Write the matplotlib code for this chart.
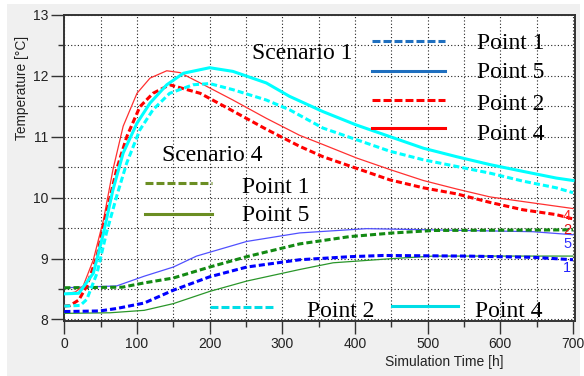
import numpy as np
import matplotlib
matplotlib.use("Agg")
import matplotlib.pyplot as plt
from matplotlib.patches import Rectangle
from matplotlib.lines import Line2D

# Scenario 1
s1_p1_t = [0, 49, 72, 110, 150, 200, 251, 324, 393, 439, 553, 645, 700]
s1_p1 = [8.13, 8.14, 8.18, 8.27, 8.48, 8.70, 8.86, 8.98, 9.03, 9.05, 9.04, 9.02, 8.98]
s1_p5_t = [0, 72, 110, 150, 182, 251, 324, 416, 553, 645, 700]
s1_p5 = [8.52, 8.55, 8.71, 8.86, 9.04, 9.28, 9.42, 9.49, 9.46, 9.44, 9.39]
s1_p2_t = [0, 8, 20, 31, 45, 58, 72, 86, 104, 122, 145, 187, 232, 278, 324,
           356, 402, 448, 494, 540, 586, 631, 677, 700]
s1_p2 = [8.22, 8.23, 8.32, 8.55, 9.04, 9.75, 10.46, 11.0, 11.49, 11.71, 11.85,
         11.71, 11.42, 11.12, 10.84, 10.67, 10.48, 10.29, 10.16, 10.06, 9.92,
         9.80, 9.72, 9.65]
s1_p4_t = [0, 15, 26, 40, 54, 67, 81, 100, 118, 141, 159, 187, 232, 278, 324,
           356, 402, 448, 494, 540, 586, 640, 700]
s1_p4 = [8.42, 8.45, 8.55, 8.98, 9.64, 10.46, 11.17, 11.71, 11.96, 12.08, 12.05,
         11.88, 11.60, 11.30, 11.02, 10.87, 10.65, 10.46, 10.28, 10.14, 10.01,
         9.92, 9.82]

# Scenario 4
s4_p1_t = [0, 80, 110, 150, 200, 251, 324, 393, 453, 508, 700]
s4_p1 = [8.52, 8.53, 8.60, 8.68, 8.86, 9.03, 9.24, 9.36, 9.42, 9.46, 9.47]
s4_p5_t = [0, 63, 110, 150, 200, 251, 324, 370, 453, 508, 700]
s4_p5 = [8.10, 8.11, 8.15, 8.26, 8.46, 8.63, 8.82, 8.93, 9.00, 9.04, 9.04]
s4_p2_t = [0, 22, 31, 45, 58, 72, 86, 104, 122, 145, 177, 200, 232, 278, 310,
           356, 402, 448, 494, 540, 586, 631, 677, 700]
s4_p2 = [8.22, 8.23, 8.33, 8.76, 9.42, 10.02, 10.57, 11.11, 11.44, 11.71, 11.85,
         11.87, 11.77, 11.60, 11.44, 11.14, 10.95, 10.76, 10.62, 10.51, 10.40,
         10.27, 10.16, 10.08]
s4_p4_t = [0, 20, 40, 54, 67, 81, 100, 118, 141, 164, 200, 232, 278, 310, 356,
           402, 448, 494, 540, 586, 631, 677, 700]
s4_p4 = [8.42, 8.43, 8.76, 9.42, 10.13, 10.73, 11.22, 11.55, 11.85, 12.04, 12.13,
         12.07, 11.88, 11.66, 11.41, 11.19, 11.0, 10.81, 10.67, 10.54, 10.43,
         10.32, 10.28]

end_labels = ["4", "2", "5", "1"]
end_label_y = [9.69, 9.47, 9.24, 8.85]
end_label_colors = ["#ff2020", "#e01010", "#3030ff", "#2020ff"]

W, H = 584, 376
fig = plt.figure(figsize=(W / 100, H / 100), dpi=100, facecolor="white")
fig.add_artist(Rectangle((7 / W, 0), 573 / W, 372 / H, transform=fig.transFigure,
                         facecolor="#f0f0f0", edgecolor="none", zorder=0))

L, R, T, B = 64.3, 575, 14.5, 321
ax = fig.add_axes([L / W, 1 - B / H, (R - L) / W, (B - T) / H])
ax.set_facecolor("white")
ax.set_xlim(0, 702.8)
ax.set_ylim(7.975, 13.003)


def ax_xy(px, py):
    return (px - L) / (R - L), (B - py) / (B - T)


dash = (0, (2, 1))
ax.plot(s1_p5_t, s1_p5, color="#5050ff", lw=0.9, zorder=3)
ax.plot(s4_p5_t, s4_p5, color="#2a962a", lw=0.9, zorder=3)
ax.plot(s4_p1_t, s4_p1, color="#138a13", lw=2.2, ls=dash, zorder=3)
ax.plot(s1_p1_t, s1_p1, color="#0000ff", lw=2.2, ls=dash, zorder=3)
ax.plot(s1_p4_t, s1_p4, color="#ff3030", lw=0.9, zorder=3)
ax.plot(s1_p2_t, s1_p2, color="#ff0000", lw=2.2, ls=dash, zorder=3)
ax.plot(s4_p2_t, s4_p2, color="#00ffff", lw=2.2, ls=dash, zorder=3)
ax.plot(s4_p4_t, s4_p4, color="#00ffff", lw=2.2, zorder=3)

for lab, y, c in zip(end_labels, end_label_y, end_label_colors):
    ax.text(692, y, lab, color=c, fontsize=10.5, family="Liberation Sans",
            ha="center", va="center", zorder=4)

ax.set_xticks(np.arange(0, 701, 100))
ax.set_xticks(np.arange(50, 701, 100), minor=True)
ax.set_yticks(np.arange(8, 13.1, 1))
ax.set_yticks(np.arange(8.5, 13, 1), minor=True)
ax.grid(which="both", color="#222222", ls=(0, (1, 2)), lw=0.8, zorder=1)
ax.set_axisbelow(True)
ax.tick_params(which="major", direction="out", length=9.5, width=1, color="#333333",
               labelsize=10, pad=2, labelcolor="#222222")
ax.tick_params(which="minor", direction="out", length=4.5, width=1, color="#333333")
for lbl in ax.get_xticklabels() + ax.get_yticklabels():
    lbl.set_family("Liberation Sans")
for s in ax.spines.values():
    s.set_color("#333333")
    s.set_linewidth(1.4)

ax.text(*ax_xy(22, 88), "Temperature [°C]", rotation=90, ha="center", va="center",
        fontsize=9.9, family="Liberation Sans", color="#222222", transform=ax.transAxes)
ax.text(*ax_xy(444, 361.7), "Simulation Time [h]", ha="center", va="center",
        fontsize=10, family="Liberation Sans", color="#222222", transform=ax.transAxes)

serif = dict(family="Liberation Serif", fontsize=17, color="black", va="baseline",
             ha="left", transform=ax.transAxes, zorder=5)
ax.text(*ax_xy(251.7, 59.3), "Scenario 1", **serif)
ax.text(*ax_xy(161.7, 160.7), "Scenario 4", **serif)

legend_items = [
    # (x0, x1, y, colour, dashed, text x, text baseline, label)
    (371.7, 445, 40.7, "#1f6fbf", True, 476.7, 49.3, "Point 1"),
    (371.7, 445, 70.7, "#1f6fbf", False, 476.7, 78.3, "Point 5"),
    (371.7, 445, 100, "#ff0000", True, 476.7, 110, "Point 2"),
    (371.7, 445, 128.3, "#ff0000", False, 476.7, 140, "Point 4"),
    (145, 211.7, 183.3, "#6b8e23", True, 241.7, 193.3, "Point 1"),
    (145, 211.7, 214.3, "#6b8e23", False, 241.7, 220.7, "Point 5"),
    (210, 275, 307.3, "#00dde6", True, 306.7, 316.7, "Point 2"),
    (391.7, 458.3, 306, "#00dde6", False, 475, 316.7, "Point 4"),
]
for x0, x1, y, c, dashed, tx, ty, lab in legend_items:
    (ax0, ay), (ax1, _) = ax_xy(x0, y), ax_xy(x1, y)
    ax.add_line(Line2D([ax0, ax1], [ay, ay], color=c, lw=2.2,
                       ls=(0, (2.6, 1)) if dashed else "-",
                       transform=ax.transAxes, zorder=5))
    ax.text(*ax_xy(tx, ty), lab, **serif)

fig.savefig("out.png", dpi=100)
